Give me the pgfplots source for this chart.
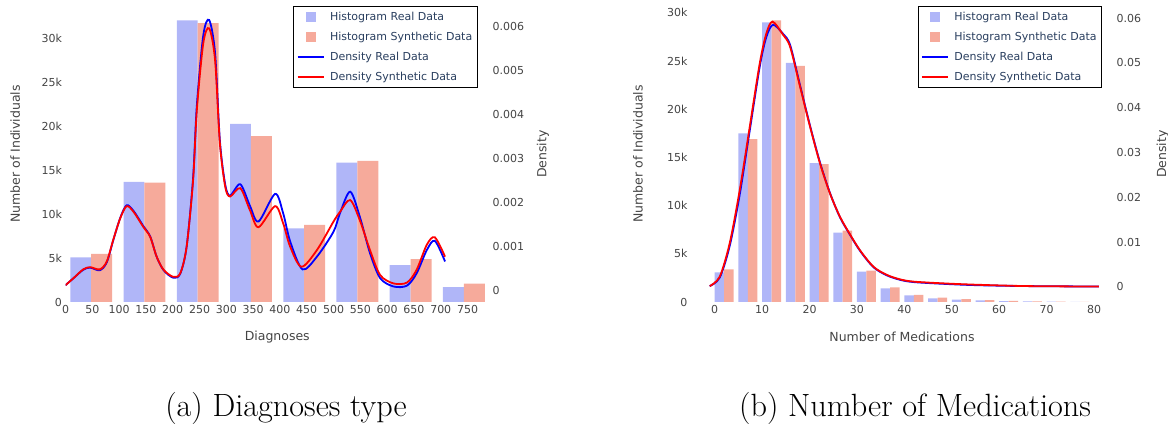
\documentclass[border=0pt]{standalone}
\usepackage{fontspec}
\usepackage{pgfplots}
\pgfplotsset{compat=1.18}
\newfontfamily\plotfont{DejaVu Sans}
\definecolor{barblue}{RGB}{176,182,248}
\definecolor{barred}{RGB}{246,170,155}
\definecolor{ticktext}{RGB}{68,68,68}
\definecolor{legtext}{RGB}{42,63,95}
\tikzset{labfont/.style={font=\plotfont\fontsize{12.5}{15}\selectfont, text=ticktext}}
\pgfplotsset{
  chartbase/.style={
    scale only axis, height=296pt,
    axis line style={draw=none}, major tick length=0pt,
    tick label style={font=\plotfont\fontsize{11}{13}\selectfont, text=ticktext},
    /pgf/number format/assume math mode=true,
    scaled ticks=false,
  },
  histlegblue/.style={legend image code/.code={\path[draw=none,fill=none] (0pt,0pt) -- (26.6pt,0pt); \fill[barblue,draw=none] (8.3pt,-5pt) rectangle (18.3pt,5pt);}},
  histlegred/.style={legend image code/.code={\path[draw=none,fill=none] (0pt,0pt) -- (26.6pt,0pt); \fill[barred,draw=none] (8.3pt,-5pt) rectangle (18.3pt,5pt);}},
  denslegblue/.style={legend image code/.code={\draw[blue, line width=1.8pt] (0pt,0pt) -- (26.6pt,0pt);}},
  denslegred/.style={legend image code/.code={\draw[red, line width=1.8pt] (0pt,0pt) -- (26.6pt,0pt);}},
  legbox/.style={legend style={at={(#1,1)}, anchor=north east, draw=black, line width=0.8pt, fill=white,
     font=\plotfont\fontsize{11}{13}\selectfont, text=legtext, inner xsep=3pt, inner ysep=4pt, row sep=6pt,
     column sep=3pt, nodes={inner sep=2pt}},
     legend cell align=left},
}
\begin{document}
\begin{tikzpicture}[x=1pt,y=1pt]
\useasboundingbox (0,0) rectangle (1168,425);
% ---------------- (a) Diagnoses: counts
\begin{axis}[chartbase,
  at={(65.5pt,123pt)}, anchor=south west, width=423.5pt,
  axis x line*=bottom, axis y line*=left,
  xmin=0, xmax=790, ymin=0, ymax=33750,
  xtick={0,50,100,150,200,250,300,350,400,450,500,550,600,650,700,750},
  xticklabels={0,50,100,150,200,250,300,350,400,450,500,550,600,650,700,750},
  ytick={0,5000,10000,15000,20000,25000,30000},
  yticklabels={0,5k,10k,15k,20k,25k,30k},
  xlabel={Diagnoses}, ylabel={Number of Individuals},
  every axis x label/.style={at={(axis description cs:0.5,-0.118)}, anchor=center, labfont},
  every axis y label/.style={at={(axis description cs:-0.119,0.5)}, anchor=center, rotate=90, labfont},
]
\addplot[ybar, bar width=39, bar shift=0pt, fill=barblue, draw=none] coordinates {
 (28.5,5100) (127.8,13700) (227.1,32100) (326.4,20300) (425.7,8400) (525,15900) (624.3,4200) (723.6,1700)};
\addplot[ybar, bar width=39, bar shift=0pt, fill=barred, draw=none] coordinates {
 (67.5,5500) (166.8,13600) (266.1,31800) (365.4,18900) (464.7,8800) (564,16100) (663.3,4900) (762.6,2100)};
\end{axis}
% ---------------- (a) Diagnoses: density
\begin{axis}[chartbase,
  at={(65.5pt,123pt)}, anchor=south west, width=423.5pt,
  hide x axis, axis y line*=right,
  xmin=0, xmax=790, ymin=-0.000273, ymax=0.00647,
  ytick={0,0.001,0.002,0.003,0.004,0.005,0.006},
  yticklabels={0,0.001,0.002,0.003,0.004,0.005,0.006},
  ylabel={Density},
  every axis y label/.style={at={(axis description cs:1.1275,0.5)}, anchor=center, rotate=90, labfont},
  legbox=0.9733,
]
\addlegendimage{histlegblue}\addlegendentry{Histogram Real Data}
\addlegendimage{histlegred}\addlegendentry{Histogram Synthetic Data}
\addplot[blue, line width=1.8pt, smooth, denslegblue] coordinates {
 (0,0.00011) (15,0.00027) (33,0.00046) (46,0.00051) (64,0.00045) (77,0.00063) (89,0.00113)
 (102,0.00164) (114,0.00193) (127,0.00180) (145,0.00146) (158,0.00122) (170,0.00076)
 (183,0.00045) (201,0.00028) (214,0.00037) (226,0.00099) (238,0.00255) (245,0.00420)
 (257,0.00580) (268,0.00615) (279,0.00540) (288,0.00340) (298,0.00240) (307,0.00215)
 (326,0.00241) (344,0.00192) (360,0.00156) (391,0.00219) (406,0.00175) (419,0.00111)
 (442,0.00047) (469,0.00076) (500,0.00133) (512,0.00175) (531,0.00224) (549,0.00167)
 (568,0.00084) (587,0.00027) (612,0.00008) (637,0.00010) (655,0.00038) (674,0.00091)
 (689,0.00112) (708,0.00065)};
\addlegendentry{Density Real Data}
\addplot[red, line width=1.8pt, smooth, denslegred] coordinates {
 (0,0.00011) (15,0.00027) (33,0.00047) (46,0.00052) (64,0.00047) (77,0.00065) (89,0.00114)
 (102,0.00163) (114,0.00191) (127,0.00178) (145,0.00144) (158,0.00121) (170,0.00076)
 (183,0.00046) (201,0.00030) (214,0.00038) (226,0.00099) (238,0.00250) (245,0.00410)
 (257,0.00562) (268,0.00596) (279,0.00524) (288,0.00334) (298,0.00235) (307,0.00213)
 (326,0.00232) (344,0.00182) (360,0.00143) (391,0.00191) (406,0.00152) (419,0.00099)
 (440,0.00053) (469,0.00091) (500,0.00156) (512,0.00178) (531,0.00205) (549,0.00159)
 (568,0.00091) (587,0.00034) (612,0.00015) (637,0.00017) (655,0.00046) (674,0.00103)
 (689,0.00120) (708,0.00076)};
\addlegendentry{Density Synthetic Data}
\end{axis}
% ---------------- (b) Medications: counts
\begin{axis}[chartbase,
  at={(691pt,123pt)}, anchor=south west, width=422pt,
  axis x line*=bottom, axis y line*=left,
  xmin=-5, xmax=84, ymin=0, ymax=30705,
  xtick={0,10,20,30,40,50,60,70,80},
  xticklabels={0,10,20,30,40,50,60,70,80},
  ytick={0,5000,10000,15000,20000,25000,30000},
  yticklabels={0,5k,10k,15k,20k,25k,30k},
  xlabel={Number of Medications}, ylabel={Number of Individuals},
  every axis x label/.style={at={(axis description cs:0.5,-0.118)}, anchor=center, labfont},
  every axis y label/.style={at={(axis description cs:-0.1256,0.5)}, anchor=center, rotate=90, labfont},
]
\addplot[ybar, bar width=2, bar shift=0pt, fill=barblue, draw=none] coordinates {
 (1,3080) (6,17500) (11,29000) (16,24800) (21,14400) (26,7200) (31,3150) (36,1420)
 (41,690) (46,380) (51,240) (56,170) (61,100) (66,70) (71,40) (76,20)};
\addplot[ybar, bar width=2, bar shift=0pt, fill=barred, draw=none] coordinates {
 (3,3390) (8,16900) (13,29200) (18,24500) (23,14300) (28,7400) (33,3250) (38,1520)
 (43,730) (48,450) (53,300) (58,190) (63,110) (68,75) (73,45) (78,20)};
\end{axis}
% ---------------- (b) Medications: density
\begin{axis}[chartbase,
  at={(691pt,123pt)}, anchor=south west, width=422pt,
  hide x axis, axis y line*=right,
  xmin=-5, xmax=84, ymin=-0.00335, ymax=0.0627,
  ytick={0,0.01,0.02,0.03,0.04,0.05,0.06},
  yticklabels={0,0.01,0.02,0.03,0.04,0.05,0.06},
  ylabel={Density},
  every axis y label/.style={at={(axis description cs:1.118,0.5)}, anchor=center, rotate=90, labfont},
  legbox=0.974,
]
\addlegendimage{histlegblue}\addlegendentry{Histogram Real Data}
\addlegendimage{histlegred}\addlegendentry{Histogram Synthetic Data}
\addplot[blue, line width=1.8pt, smooth, denslegblue] coordinates {
 (-1.06,0.0002) (1.06,0.0021) (3.17,0.0092) (5.29,0.0207) (7.4,0.0350) (9.5,0.0492)
 (10.9,0.0558) (12.3,0.0585) (14.4,0.0565) (15.9,0.0540) (18,0.0450) (20.1,0.0360)
 (22.2,0.0278) (24.3,0.0210) (26.4,0.0156) (28.5,0.0117) (30.7,0.0080) (33.5,0.0044)
 (36.3,0.0026) (39.1,0.0016) (41.9,0.0011) (48.3,0.0007) (55.3,0.0004) (65.9,0.0002) (81,0.0001)};
\addlegendentry{Density Real Data}
\addplot[red, line width=1.8pt, smooth, denslegred] coordinates {
 (-1.06,0.0002) (1.06,0.0023) (3.17,0.0098) (5.29,0.0217) (7.4,0.0358) (9.5,0.0499)
 (10.9,0.0566) (12.2,0.0592) (14.4,0.0563) (15.9,0.0536) (18,0.0447) (20.1,0.0358)
 (22.2,0.0276) (24.3,0.0209) (26.4,0.0157) (28.5,0.0118) (30.7,0.0081) (33.5,0.0045)
 (36.3,0.0027) (39.1,0.0017) (41.9,0.0012) (48.3,0.0008) (55.3,0.0005) (65.9,0.0002) (81,0.0001)};
\addlegendentry{Density Synthetic Data}
\end{axis}
% ---------------- captions
\node[font=\fontsize{32.2}{36}\selectfont, anchor=center] at (286,17) {(a) Diagnoses type};
\node[font=\fontsize{32.2}{36}\selectfont, anchor=center] at (915,17) {(b) Number of Medications};
\end{tikzpicture}
\end{document}
